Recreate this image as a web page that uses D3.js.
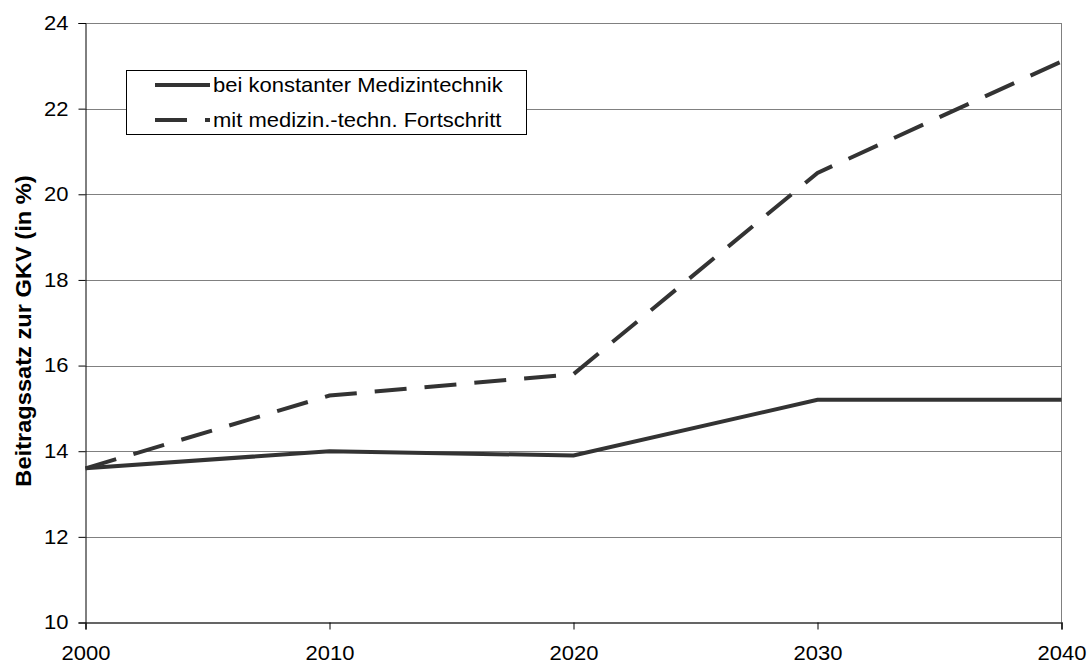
<!DOCTYPE html>
<html>
<head>
<meta charset="utf-8">
<script src="https://cdn.jsdelivr.net/npm/d3@7"></script>
<style>
  html, body { margin: 0; padding: 0; background: #fff; }
  svg { display: block; font-family: "Liberation Sans", Arial, sans-serif; }
</style>
</head>
<body>
<svg id="chart" width="1087" height="664"></svg>
<script>
// Beitragssatz zur GKV, Projektion 2000–2040
const years = [2000, 2010, 2020, 2030, 2040];
const konstant = [13.6, 14.0, 13.9, 15.2, 15.2];
const fortschritt = [13.6, 15.3, 15.8, 20.5, 23.1];
const yTicks = [10, 12, 14, 16, 18, 20, 22, 24];
const seriesNames = ["bei konstanter Medizintechnik", "mit medizin.-techn. Fortschritt"];
const yLabel = "Beitragssatz zur GKV (in %)";

const svg = d3.select("#chart");
const plot = { left: 85.5, right: 1061.5, top: 23, bottom: 622.5 };

const x = d3.scaleLinear().domain([2000, 2040]).range([plot.left, plot.right]);
const y = d3.scaleLinear().domain([10, 24]).range([plot.bottom, plot.top]);

const lineColor = "#333333";
const textScale = 1.1;

// horizontal gridlines
svg.append("g")
  .selectAll("line")
  .data(yTicks.filter(d => d > 10))
  .join("line")
  .attr("x1", plot.left).attr("x2", plot.right)
  .attr("y1", d => Math.round(y(d)) + 0.5).attr("y2", d => Math.round(y(d)) + 0.5)
  .attr("stroke", "#808080").attr("stroke-width", 1);

// right border of plot area
svg.append("line")
  .attr("x1", plot.right).attr("x2", plot.right)
  .attr("y1", plot.top).attr("y2", plot.bottom)
  .attr("stroke", "#808080").attr("stroke-width", 1);

// y axis
const yAxis = svg.append("g")
  .attr("transform", `translate(${plot.left},0)`)
  .call(d3.axisLeft(y).tickValues(yTicks).tickSize(7).tickPadding(10).tickFormat(d3.format("d")));
yAxis.select(".domain").attr("stroke", "#000");
yAxis.selectAll(".tick line").attr("stroke", "#000");
yAxis.selectAll(".tick text")
  .attr("font-size", 20).attr("fill", "#000")
  .attr("font-family", "Liberation Sans, Arial, sans-serif")
  .each(function () {
    const t = d3.select(this);
    const xx = +t.attr("x");
    t.attr("x", xx / textScale).attr("transform", `scale(${textScale},1)`);
  });

// x axis
const xAxis = svg.append("g")
  .attr("transform", `translate(0,${plot.bottom})`)
  .call(d3.axisBottom(x).tickValues(years).tickSize(7).tickPadding(16).tickFormat(d3.format("d")));
xAxis.select(".domain").attr("stroke", "#333").attr("stroke-width", 1.5);
xAxis.selectAll(".tick line").attr("stroke", "#000");
xAxis.selectAll(".tick text")
  .attr("font-size", 20).attr("fill", "#000")
  .attr("font-family", "Liberation Sans, Arial, sans-serif")
  .attr("transform", `scale(${textScale},1)`);

// y axis title
svg.append("text")
  .attr("transform", "translate(31,331) rotate(-90) scale(1.075,1)")
  .attr("text-anchor", "middle")
  .attr("font-size", 22).attr("font-weight", "bold").attr("fill", "#000")
  .text(yLabel);

// data lines
const line = d3.line().x((d, i) => x(years[i])).y(d => y(d));

svg.append("path")
  .datum(konstant)
  .attr("d", line)
  .attr("fill", "none").attr("stroke", lineColor).attr("stroke-width", 4)
  .attr("stroke-linejoin", "miter");

svg.append("path")
  .datum(fortschritt)
  .attr("d", line)
  .attr("fill", "none").attr("stroke", lineColor).attr("stroke-width", 4)
  .attr("stroke-dasharray", "32,18")
  .attr("stroke-linejoin", "miter");

// legend
const legend = svg.append("g");
legend.append("rect")
  .attr("x", 126.5).attr("y", 70.5).attr("width", 400).attr("height", 64)
  .attr("fill", "#fff").attr("stroke", "#000").attr("stroke-width", 1);

const legendRows = [
  { name: seriesNames[0], dash: null, yy: 85 },
  { name: seriesNames[1], dash: "32,18", yy: 120 }
];
legendRows.forEach(r => {
  legend.append("line")
    .attr("x1", 155).attr("x2", 210).attr("y1", r.yy).attr("y2", r.yy)
    .attr("stroke", lineColor).attr("stroke-width", 4)
    .attr("stroke-dasharray", r.dash);
  legend.append("text")
    .attr("x", 213 / textScale).attr("y", r.yy + 7)
    .attr("transform", `scale(${textScale},1)`)
    .attr("font-size", 20).attr("fill", "#000")
    .text(r.name);
});
</script>
</body>
</html>
